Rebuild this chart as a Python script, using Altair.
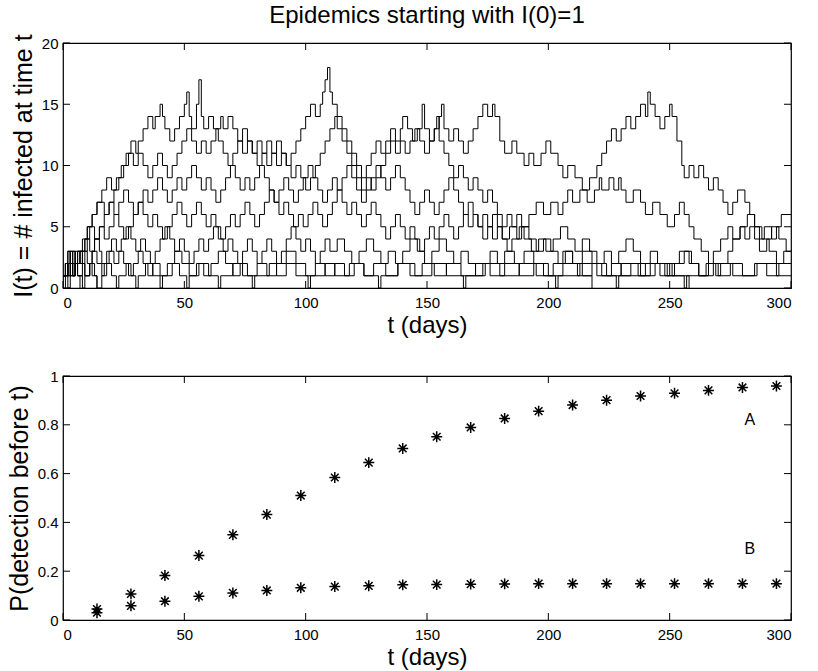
import altair as alt
import pandas as pd

# ---------------- top panel: epidemic trajectories (t, I) step points ----------------
TR1 = [(0,1),(2,2),(3,1),(5,2),(7,3),(9,4),(10,5),(12,6),(14,7),(16,8),(18,9),(20,8),(22,9),(24,10),(26,11),(28,12),(30,11),(31,12),(33,13),(35,14),(37,13),(38,14),(40,15),(41,14),(42,13),(44,12),(46,13),(48,14),(50,15),(51,16),(52,14),(53,13),(55,15),(56,17),(57,14),(58,13),(60,14),(62,13),(64,12),(66,11),(68,10),(70,11),(72,12),(74,11),(76,12),(78,11),(80,10),(82,11),(84,12),(86,11),(88,10),(90,11),(92,10),(94,11),(96,12),(98,13),(100,14),(102,15),(104,14),(106,15),(107,16),(108,17),(109,18),(110,16),(111,15),(113,14),(115,13),(117,12),(119,11),(121,10),(123,9),(125,10),(127,11),(129,12),(131,11),(133,12),(135,13),(137,12),(139,13),(140,14),(142,13),(144,12),(146,13),(148,15),(149,13),(151,12),(153,13),(155,14),(156,15),(157,13),(159,12),(161,13),(163,12),(165,11),(167,12),(169,13),(171,14),(173,15),(175,14),(177,15),(178,14),(180,12),(182,11),(185,12),(187,11),(190,10),(192,11),(194,10),(197,11),(199,12),(201,11),(204,10),(206,9),(208,10),(211,9),(214,8),(217,9),(220,10),(222,11),(224,12),(226,13),(228,12),(230,13),(232,14),(234,13),(236,14),(238,15),(240,14),(241,16),(242,15),(244,14),(246,13),(248,14),(250,15),(251,14),(253,12),(255,10),(256,9),(258,10),(260,9),(262,10),(264,9),(266,8),(268,9),(270,8),(272,7),(274,6),(276,7),(278,8),(281,7),(283,6),(285,5),(287,4),(289,5),(292,4),(294,5),(296,6),(300,6)]
TR2 = [(0,1),(1,2),(3,3),(4,2),(6,3),(8,4),(10,5),(12,6),(14,7),(17,6),(19,7),(21,8),(23,9),(25,10),(27,11),(29,10),(31,11),(33,10),(35,9),(37,10),(39,11),(41,10),(43,9),(45,10),(47,11),(49,12),(51,13),(53,12),(55,11),(57,12),(59,11),(61,12),(63,13),(65,14),(66,13),(68,14),(70,13),(72,12),(74,13),(76,12),(78,11),(80,12),(82,11),(84,10),(86,11),(88,12),(90,11),(92,10),(94,9),(96,10),(98,9),(100,8),(102,9),(104,10),(106,11),(108,12),(110,13),(112,14),(113,13),(115,12),(117,11),(119,10),(121,9),(123,8),(125,9),(127,8),(129,9),(131,10),(133,11),(135,12),(137,11),(139,12),(141,11),(143,12),(145,13),(147,12),(149,11),(151,12),(153,13),(154,14),(155,12),(157,11),(159,10),(161,9),(163,10),(165,9),(167,8),(169,9),(171,8),(173,7),(175,8),(177,7),(179,6),(181,5),(183,6),(185,5),(187,4),(189,5),(192,4),(195,3),(198,4),(201,3),(204,2),(207,3),(210,2),(214,1),(218,0)]
TR3 = [(0,1),(2,2),(4,1),(5,2),(7,3),(9,4),(11,5),(13,4),(15,5),(17,6),(19,7),(21,6),(23,7),(25,8),(27,7),(29,6),(31,7),(33,8),(35,7),(37,8),(39,9),(41,8),(43,7),(45,8),(47,9),(49,8),(51,9),(53,10),(55,9),(57,8),(59,9),(61,8),(63,7),(65,8),(67,9),(69,10),(71,9),(73,8),(75,9),(77,8),(79,9),(81,10),(83,9),(85,8),(87,7),(89,8),(91,9),(93,8),(95,7),(97,8),(99,9),(101,10),(103,9),(105,8),(107,7),(109,8),(111,9),(113,8),(115,9),(117,10),(119,9),(121,8),(123,7),(125,8),(127,9),(129,10),(131,9),(133,8),(135,9),(137,10),(139,9),(141,8),(143,7),(145,6),(147,7),(149,8),(151,7),(153,6),(155,7),(157,8),(159,9),(161,8),(163,7),(165,6),(167,5),(169,6),(171,5),(173,4),(175,5),(177,6),(179,5),(181,4),(184,5),(187,6),(189,5),(192,6),(195,7),(198,6),(201,7),(204,6),(206,7),(208,8),(210,7),(213,8),(216,7),(219,8),(221,9),(222,8),(225,9),(227,8),(229,9),(230,8),(232,7),(235,8),(238,7),(240,6),(243,7),(246,6),(249,5),(252,6),(254,7),(256,6),(258,5),(260,4),(263,3),(266,2),(269,1),(271,2),(274,3),(276,4),(279,5),(281,4),(283,5),(285,4),(287,3),(290,4),(292,5),(295,4),(298,3),(300,3)]
TR4 = [(0,1),(1,2),(2,1),(3,2),(5,3),(6,2),(8,3),(10,4),(11,3),(13,4),(15,5),(17,4),(19,5),(21,6),(23,5),(25,4),(27,5),(29,6),(31,7),(33,6),(35,5),(37,6),(39,5),(41,4),(43,5),(45,6),(47,7),(49,6),(51,5),(53,6),(55,7),(57,6),(59,5),(61,6),(63,5),(65,4),(67,5),(69,6),(71,5),(73,6),(75,7),(77,6),(79,5),(81,6),(83,7),(85,8),(87,7),(89,6),(91,7),(93,6),(95,5),(97,6),(99,5),(101,6),(103,7),(105,6),(107,5),(109,6),(111,7),(113,8),(115,7),(117,6),(119,7),(121,6),(123,5),(125,6),(127,7),(129,6),(131,5),(133,4),(135,5),(137,6),(139,5),(141,4),(143,5),(145,4),(147,3),(149,4),(151,5),(153,4),(155,5),(157,6),(159,5),(161,4),(163,5),(165,6),(167,7),(169,6),(171,5),(173,6),(175,5),(177,4),(179,5),(181,4),(183,3),(185,4),(188,5),(190,4),(193,3),(196,4),(199,3),(202,4),(205,5),(208,4),(211,3),(214,4),(217,3),(220,2),(223,3),(226,2),(229,3),(232,4),(235,3),(238,2),(242,3),(245,2),(249,1),(252,2),(256,3),(259,2),(262,1),(265,2),(268,3),(271,4),(274,5),(276,4),(279,5),(282,6),(285,5),(288,4),(291,3),(294,2),(297,3),(300,3)]
TR5 = [(0,1),(1,2),(2,3),(3,2),(4,1),(5,2),(6,3),(7,2),(9,3),(10,2),(12,3),(13,4),(15,3),(16,2),(18,3),(20,4),(22,3),(24,4),(26,5),(28,4),(30,3),(32,4),(34,3),(36,2),(38,3),(40,4),(42,5),(44,4),(46,3),(48,4),(50,3),(52,2),(54,3),(56,4),(58,3),(60,4),(62,5),(64,4),(66,3),(68,4),(70,3),(72,2),(74,3),(76,4),(78,3),(80,2),(82,3),(84,4),(86,3),(88,2),(90,3),(92,4),(94,5),(96,4),(98,3),(100,4),(102,3),(104,2),(106,3),(108,4),(110,3),(113,4),(116,3),(119,2),(122,3),(125,4),(128,3),(131,2),(134,3),(137,2),(140,3),(143,4),(146,3),(149,2),(152,3),(155,4),(158,3),(161,2),(164,3),(167,2),(170,1),(173,2),(176,3),(179,2),(182,3),(186,2),(190,3),(194,2),(198,1),(202,2),(206,3),(210,2),(214,3),(218,2),(222,1),(226,2),(230,1),(234,2),(238,1),(242,2),(246,1),(250,2),(254,3),(258,2),(262,1),(266,2),(270,1),(275,2),(280,1),(285,2),(290,1),(295,2),(300,2)]
TR6 = [(0,1),(1,2),(2,1),(3,2),(4,3),(5,2),(6,1),(8,2),(9,1),(11,2),(12,3),(14,2),(16,1),(17,2),(19,3),(21,2),(23,3),(25,2),(27,1),(29,2),(31,3),(33,2),(35,1),(37,2),(40,1),(43,2),(46,3),(49,2),(52,1),(55,2),(58,1),(61,2),(64,3),(67,2),(70,1),(73,2),(76,1),(80,2),(84,1),(88,2),(92,3),(96,2),(100,1),(104,2),(108,1),(112,2),(116,1),(120,2),(124,1),(128,2),(133,1),(138,2),(143,1),(148,2),(153,1),(158,2),(164,1),(170,2),(176,1),(182,2),(188,1),(194,2),(200,1),(206,2),(212,1),(218,2),(224,1),(230,2),(237,1),(244,2),(251,1),(258,0)]
TR7 = [(0,1),(2,0),(3,1),(5,2),(6,1),(8,0),(9,1),(11,2),(13,1),(14,0),(16,1),(18,2),(20,1),(22,0),(23,1),(26,2),(28,1),(30,0),(31,1),(34,2),(37,1),(40,0),(41,1),(45,2),(48,1),(51,0),(52,1),(56,2),(60,1),(64,0),(65,1),(70,2),(74,1),(78,0),(79,1),(85,2),(88,1),(92,2),(96,1),(101,0),(102,1),(108,2),(112,1),(118,2),(124,1),(130,0),(131,1),(138,2),(145,1),(152,2),(158,1),(165,0),(166,1),(174,2),(180,1),(188,2),(195,1),(203,0),(204,1),(213,2),(220,1),(228,0),(229,1),(240,2),(248,1),(256,0),(257,1),(268,2),(276,1),(286,2),(294,1),(300,1)]
TR8 = [(0,1),(1,2),(2,3),(3,2),(4,1),(5,2),(6,1),(7,0)]
TR9 = [(0,1),(2,2),(3,3),(5,2),(6,3),(8,2),(9,1),(11,2),(12,1),(14,0)]
TR10 = [(0,1),(1,0)]
TRACES = {"1": TR1, "2": TR2, "3": TR3, "4": TR4, "5": TR5,
          "6": TR6, "7": TR7, "8": TR8, "9": TR9, "10": TR10}

# ---------------- bottom panel: detection probabilities ----------------
T_DET = [14, 28, 42, 56, 70, 84, 98, 112, 126, 140, 154, 168, 182, 196, 210, 224, 238, 252, 266, 280, 294]
P_A = [0.045, 0.107, 0.182, 0.264, 0.349, 0.432, 0.51, 0.584, 0.645, 0.703, 0.751, 0.789,
       0.826, 0.856, 0.881, 0.901, 0.918, 0.929, 0.941, 0.953, 0.959]
P_B = [0.03, 0.058, 0.077, 0.097, 0.111, 0.121, 0.132, 0.137, 0.14, 0.144, 0.145, 0.147,
       0.148, 0.149, 0.149, 0.149, 0.149, 0.149, 0.149, 0.149, 0.149]
LABELS = ["A", "B"]
LABEL_T = [283, 283]
LABEL_P = [0.82, 0.29]

X_TICKS = [0, 50, 100, 150, 200, 250, 300]
Y1_TICKS = [0, 5, 10, 15, 20]
Y2_TICKS = [0, 0.2, 0.4, 0.6, 0.8, 1]

FONT = "Liberation Sans"
TICKLEN = 7
W1, H1 = 728, 245
W2, H2 = 728, 244

rows = []
for name, tr in TRACES.items():
    for t, v in tr:
        rows.append({"trace": name, "t": t, "I": v})
df_top = pd.DataFrame(rows)

xscale = alt.Scale(domain=[0, 300], nice=False, zero=False)
y1scale = alt.Scale(domain=[0, 20], nice=False)
y2scale = alt.Scale(domain=[0, 1], nice=False)

XAX = alt.Axis(values=X_TICKS, title="t (days)", ticks=False, domain=False, grid=False,
               labelFont=FONT, labelFontSize=15, labelColor="black", labelPadding=7,
               titleFont=FONT, titleFontSize=24, titleFontWeight="normal",
               titleColor="black", titlePadding=3)


def yaxis(vals, title):
    return alt.Axis(values=vals, title=title, ticks=False, domain=False, grid=False,
                    format=".1~f",
                    labelFont=FONT, labelFontSize=15, labelColor="black", labelPadding=5,
                    titleFont=FONT, titleFontSize=25, titleFontWeight="normal",
                    titleColor="black", titlePadding=5)


def tick_layers(xfield, yfield, yscale, yax, yvals, w, h):
    dx = pd.DataFrame({xfield: X_TICKS})
    dy = pd.DataFrame({yfield: yvals})
    base_x = alt.Chart(dx).mark_rule(color="black", strokeWidth=1)
    base_y = alt.Chart(dy).mark_rule(color="black", strokeWidth=1)
    xb = base_x.encode(x=alt.X(f"{xfield}:Q", scale=xscale, axis=XAX),
                       y=alt.value(h), y2=alt.value(h - TICKLEN))
    xt = base_x.encode(x=alt.X(f"{xfield}:Q", scale=xscale, axis=XAX),
                       y=alt.value(0), y2=alt.value(TICKLEN))
    yl = base_y.encode(y=alt.Y(f"{yfield}:Q", scale=yscale, axis=yax),
                       x=alt.value(0), x2=alt.value(TICKLEN))
    yr = base_y.encode(y=alt.Y(f"{yfield}:Q", scale=yscale, axis=yax),
                       x=alt.value(w), x2=alt.value(w - TICKLEN))
    return [xb, xt, yl, yr]


Y1AX = yaxis(Y1_TICKS, "I(t) = # infected at time t")
Y2AX = yaxis(Y2_TICKS, "P(detection before t)")

lines = alt.Chart(df_top).mark_line(interpolate="step-after", color="black", strokeWidth=1).encode(
    x=alt.X("t:Q", scale=xscale, axis=XAX),
    y=alt.Y("I:Q", scale=y1scale, axis=Y1AX),
    detail="trace:N",
)

top = alt.layer(lines, *tick_layers("t", "I", y1scale, Y1AX, Y1_TICKS, W1, H1)).properties(
    width=W1, height=H1,
    title=alt.TitleParams("Epidemics starting with I(0)=1", font=FONT, fontSize=24,
                          fontWeight="normal", color="black", anchor="middle",
                          frame="group", offset=6),
)

df_bot = pd.concat([
    pd.DataFrame({"t": T_DET, "P": P_A, "series": "A"}),
    pd.DataFrame({"t": T_DET, "P": P_B, "series": "B"}),
])
df_lab = pd.DataFrame({"t": LABEL_T, "P": LABEL_P, "label": LABELS})

ASTERISK = "M0,-1L0,1M-1,0L1,0M-0.7,-0.7L0.7,0.7M-0.7,0.7L0.7,-0.7"

stars = alt.Chart(df_bot).mark_point(shape=ASTERISK, filled=False, color="black",
                                     strokeWidth=1.5, size=120, opacity=1).encode(
    x=alt.X("t:Q", scale=xscale, axis=XAX),
    y=alt.Y("P:Q", scale=y2scale, axis=Y2AX),
    detail="series:N",
)
labels = alt.Chart(df_lab).mark_text(font=FONT, fontSize=16, color="black").encode(
    x=alt.X("t:Q", scale=xscale, axis=XAX),
    y=alt.Y("P:Q", scale=y2scale, axis=Y2AX),
    text="label:N",
)

bottom = alt.layer(stars, labels, *tick_layers("t", "P", y2scale, Y2AX, Y2_TICKS, W2, H2)).properties(
    width=W2, height=H2)

chart = alt.vconcat(top, bottom, spacing=30).properties(
    padding={"left": 6, "top": 3, "right": 5, "bottom": 0},
    background="white",
).configure_view(stroke="black", strokeWidth=1.2)

chart.save("out.html", embed_options={"renderer": "svg", "actions": False})
